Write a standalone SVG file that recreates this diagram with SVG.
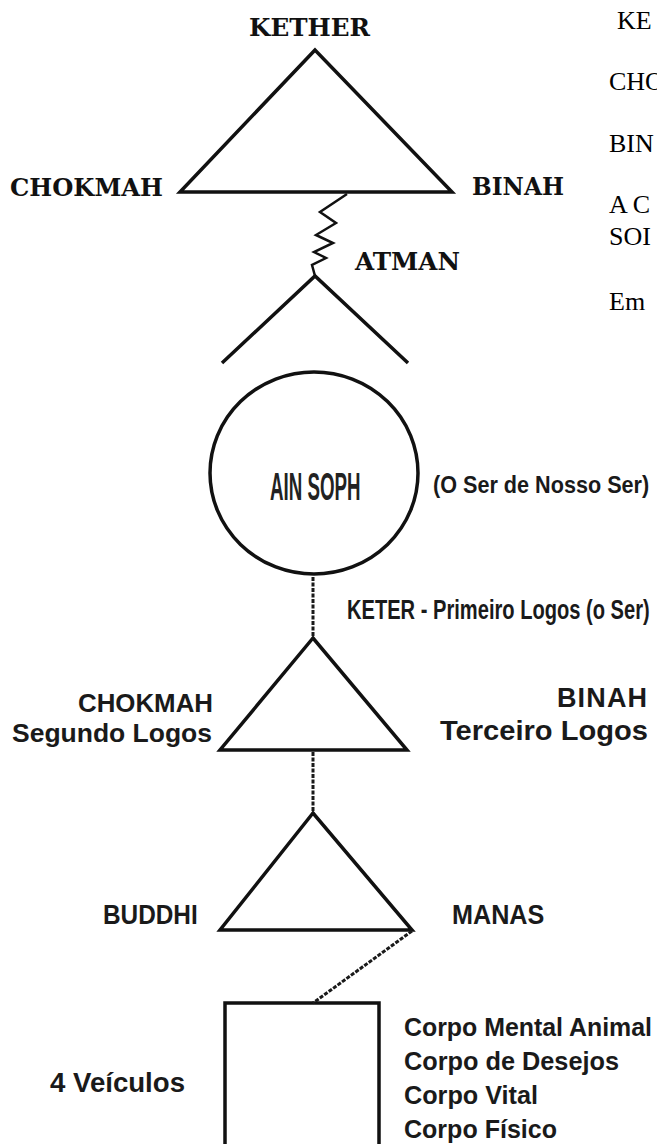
<svg xmlns="http://www.w3.org/2000/svg" width="657" height="1144" viewBox="0 0 657 1144">
<style>
.bg{fill:#ffffff}
.shape{fill:none;stroke:#111;stroke-width:3.5;stroke-linejoin:miter}
.conn{fill:none;stroke:#111;stroke-width:2.5}
.dash{fill:none;stroke:#1a1a1a;stroke-width:3;stroke-dasharray:4 1.5}
.clar{font-family:"DejaVu Serif",serif;font-weight:bold;font-size:24px;fill:#111}
.times{font-family:"Liberation Serif","Times New Roman",serif;font-size:26px;fill:#000}
.ain{font-family:"Liberation Sans",Arial,sans-serif;font-weight:bold;font-size:39px;fill:#222}
.sb{font-family:"Liberation Sans",Arial,sans-serif;font-weight:bold;fill:#1a1a1a}
</style>
<rect class="bg" x="0" y="0" width="657" height="1144"/>

<g id="kether-triad">
  <polygon class="shape" stroke-width="4" points="315,50 180,192 452,192"/>
  <text class="clar" x="249" y="36" textLength="121" lengthAdjust="spacingAndGlyphs">KETHER</text>
  <text class="clar" x="10" y="196" textLength="153" lengthAdjust="spacingAndGlyphs">CHOKMAH</text>
  <text class="clar" x="472" y="195" textLength="92" lengthAdjust="spacingAndGlyphs">BINAH</text>
</g>

<g id="atman">
  <polyline class="shape" points="222,363 315,276 408,363"/>
  <text class="clar" x="355" y="270" textLength="105" lengthAdjust="spacingAndGlyphs">ATMAN</text>
</g>

<g id="side-text">
  <text class="times" x="617" y="29">KE</text>
  <text class="times" x="609" y="90">CHO</text>
  <text class="times" x="609" y="152">BIN</text>
  <text class="times" x="609" y="213">A C</text>
  <text class="times" x="609" y="245">SOI</text>
  <text class="times" x="609" y="310">Em</text>
</g>

<g id="ain-soph">
  <ellipse class="shape" stroke-width="3" cx="314" cy="473" rx="104" ry="101"/>
  <text class="ain" transform="translate(270,500) scale(0.48,1)" x="0" y="0">AIN SOPH</text>
  <text class="sb" font-size="23" transform="translate(433,493) scale(0.94,1)" x="0" y="0">(O Ser de Nosso Ser)</text>
</g>

<g id="keter-logos">
  <text class="sb" font-size="27" transform="translate(347,619) scale(0.745,1)" x="0" y="0">KETER - Primeiro Logos (o Ser)</text>
</g>

<g id="logos-triangle">
  <polygon class="shape" points="313,638 220,750 407,750"/>
  <text class="sb" font-size="25" x="78" y="712" textLength="135" lengthAdjust="spacingAndGlyphs">CHOKMAH</text>
  <text class="sb" font-size="26" x="12" y="742" textLength="200" lengthAdjust="spacingAndGlyphs">Segundo Logos</text>
  <text class="sb" font-size="27" x="557" y="707" textLength="90" lengthAdjust="spacing">BINAH</text>
  <text class="sb" font-size="27" x="440" y="740" textLength="208" lengthAdjust="spacingAndGlyphs">Terceiro Logos</text>
</g>

<g id="buddhi-manas">
  <polygon class="shape" points="313,813 220,930 412,930"/>
  <text class="sb" font-size="28" transform="translate(103,924) scale(0.87,1)" x="0" y="0">BUDDHI</text>
  <text class="sb" font-size="28" transform="translate(452,924) scale(0.9,1)" x="0" y="0">MANAS</text>
</g>

<g id="veiculos">
  <path class="shape" stroke-width="4" d="M225,1150 V1003 H379 V1150"/>
  <text class="sb" font-size="27" x="50" y="1092" textLength="135" lengthAdjust="spacingAndGlyphs">4 Veículos</text>
  <text class="sb" font-size="25" x="404" y="1036" textLength="248" lengthAdjust="spacingAndGlyphs">Corpo Mental Animal</text>
  <text class="sb" font-size="25" x="404" y="1070" textLength="215" lengthAdjust="spacingAndGlyphs">Corpo de Desejos</text>
  <text class="sb" font-size="25" x="404" y="1104" textLength="134" lengthAdjust="spacingAndGlyphs">Corpo Vital</text>
  <text class="sb" font-size="25" x="404" y="1138" textLength="153" lengthAdjust="spacingAndGlyphs">Corpo Físico</text>
</g>

<g id="connectors">
  <polyline class="conn" points="347,194 320,212 336,223 316,235 333,243 314,252 326,258 312,265 315,276"/>
  <line class="dash" x1="313" y1="577" x2="313" y2="638"/>
  <line class="dash" x1="313" y1="752" x2="313" y2="813"/>
  <line class="dash" x1="412" y1="931" x2="313" y2="1003"/>
</g>
</svg>
